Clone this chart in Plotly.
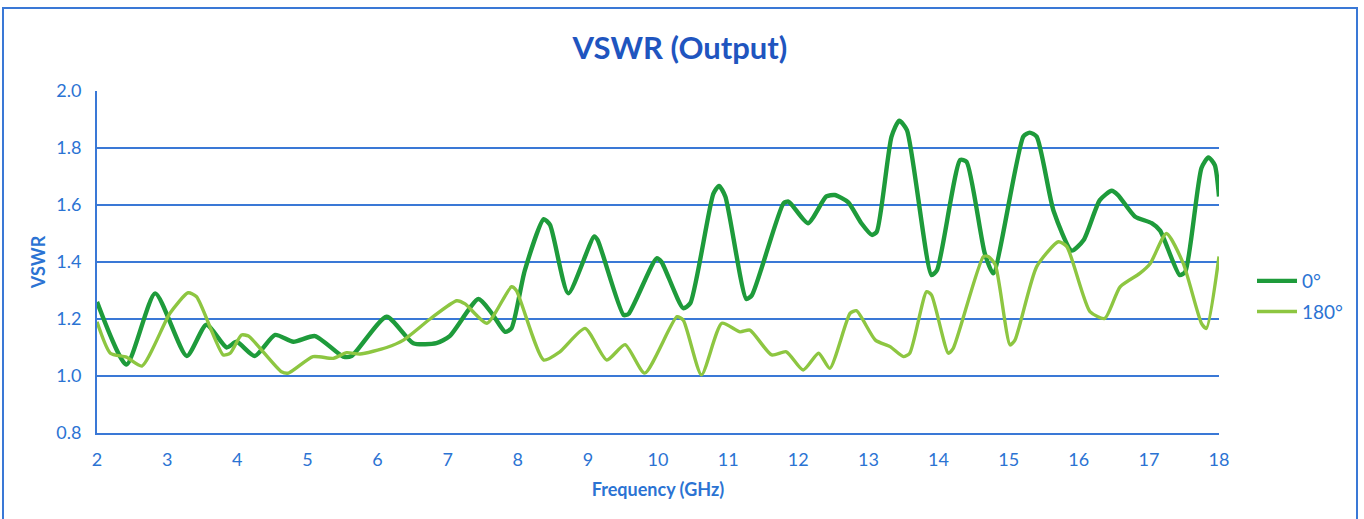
import plotly.graph_objects as go

# ---- data ----
freq_0 = [2.00, 2.42, 2.83, 3.28, 3.56, 3.85, 3.99, 4.25, 4.54, 4.80, 5.11, 5.51, 5.63,
          6.13, 6.51, 6.84, 7.03, 7.44, 7.63, 7.82, 7.91, 8.10, 8.37, 8.46, 8.72, 9.09,
          9.14, 9.51, 9.58, 9.98, 10.05, 10.36, 10.46, 10.79, 10.87, 10.96, 11.26, 11.34,
          11.79, 11.86, 11.93, 12.14, 12.40, 12.52, 12.71, 12.90, 13.05, 13.12, 13.33,
          13.44, 13.55, 13.90, 13.98, 14.31, 14.40, 14.66, 14.78, 15.21, 15.30, 15.40,
          15.64, 15.90, 16.07, 16.30, 16.47, 16.56, 16.80, 17.04, 17.16, 17.44, 17.52,
          17.75, 17.85, 17.94, 18.00]
vswr_0 = [1.26, 1.04, 1.29, 1.07, 1.18, 1.10, 1.12, 1.07, 1.144, 1.12, 1.14, 1.068, 1.07,
          1.208, 1.115, 1.115, 1.14, 1.27, 1.22, 1.155, 1.167, 1.37, 1.55, 1.53, 1.29, 1.49,
          1.477, 1.214, 1.218, 1.413, 1.40, 1.238, 1.255, 1.64, 1.667, 1.63, 1.27, 1.284,
          1.606, 1.612, 1.594, 1.536, 1.63, 1.635, 1.61, 1.536, 1.495, 1.506, 1.84,
          1.896, 1.863, 1.354, 1.372, 1.758, 1.752, 1.43, 1.36, 1.84, 1.854, 1.84,
          1.58, 1.44, 1.477, 1.617, 1.65, 1.635, 1.56, 1.536, 1.51, 1.354, 1.366,
          1.73, 1.767, 1.74, 1.63]

freq_180 = [2.00, 2.19, 2.42, 2.64, 3.04, 3.30, 3.42, 3.80, 3.90, 4.06, 4.16, 4.63, 4.73,
            5.08, 5.37, 5.56, 5.75, 6.13, 6.37, 6.75, 7.13, 7.25, 7.56, 7.91, 7.98, 8.37,
            8.60, 8.96, 9.27, 9.53, 9.81, 10.27, 10.36, 10.62, 10.91, 11.17, 11.31, 11.62,
            11.83, 12.07, 12.29, 12.45, 12.74, 12.83, 13.10, 13.31, 13.50, 13.59, 13.83,
            13.90, 14.14, 14.21, 14.64, 14.71, 14.81, 15.02, 15.09, 15.40, 15.71, 15.83,
            16.16, 16.37, 16.59, 16.87, 17.02, 17.25, 17.49, 17.75, 17.82, 18.00]
vswr_180 = [1.19, 1.08, 1.066, 1.035, 1.22, 1.292, 1.278, 1.074, 1.08, 1.144, 1.14, 1.015, 1.01,
            1.068, 1.062, 1.082, 1.077, 1.10, 1.126, 1.20, 1.264, 1.253, 1.185, 1.313, 1.30, 1.056,
            1.085, 1.167, 1.056, 1.11, 1.01, 1.208, 1.196, 1.004, 1.185, 1.155, 1.161, 1.074,
            1.085, 1.021, 1.08, 1.027, 1.22, 1.229, 1.126, 1.103, 1.068, 1.08, 1.296,
            1.284, 1.08, 1.097, 1.419, 1.419, 1.39, 1.109, 1.126, 1.384, 1.471, 1.454,
            1.226, 1.202, 1.313, 1.36, 1.395, 1.50, 1.395, 1.185, 1.167, 1.419]

x_ticks = [2, 3, 4, 5, 6, 7, 8, 9, 10, 11, 12, 13, 14, 15, 16, 17, 18]
y_ticks = [0.8, 1.0, 1.2, 1.4, 1.6, 1.8, 2.0]
y_tick_labels = ["0.8", "1.0", "1.2", "1.4", "1.6", "1.8", "2.0"]

# ---- styles ----
BLUE = "#2B73D3"
GRID = "#3A78D6"
TITLE_BLUE = "#1F55BF"
DARK_GREEN = "#1E9B3B"
LIGHT_GREEN = "#8DC641"
FONT = "Lato, 'Open Sans', Arial, sans-serif"

fig = go.Figure()
fig.add_trace(go.Scatter(x=freq_0, y=vswr_0, mode="lines", name="0°",
                         line=dict(color=DARK_GREEN, width=4.4, shape="spline", smoothing=0.6),
                         legendgroup="a"))
fig.add_trace(go.Scatter(x=freq_180, y=vswr_180, mode="lines", name="180°",
                         line=dict(color=LIGHT_GREEN, width=3.4, shape="spline", smoothing=0.6),
                         legendgroup="b"))

L, R, T, B = 97, 145, 91, 86
W, H = 1364, 519
pw, ph = W - L - R, H - T - B

def px_x(px):
    return (px - L) / pw

def px_y(py):
    return (H - B - py) / ph

fig.update_layout(
    width=W, height=H,
    margin=dict(l=L, r=R, t=T, b=B),
    paper_bgcolor="white", plot_bgcolor="white",
    font=dict(family=FONT, color=BLUE),
    title=dict(text="<b>VSWR (Output)</b>", x=680 / W, xref="container", xanchor="center",
               y=1 - 48 / H, yref="container", yanchor="middle",
               font=dict(size=31, color=TITLE_BLUE, family=FONT)),
    showlegend=True,
    legend=dict(x=px_x(1252), y=px_y(262), xanchor="left", yanchor="top",
                font=dict(size=19, color=BLUE, family=FONT),
                tracegroupgap=3, itemwidth=40, bgcolor="rgba(0,0,0,0)"),
    xaxis=dict(range=[2, 18], tickvals=x_ticks, ticktext=[str(t) for t in x_ticks],
               showgrid=False, zeroline=False, showline=True, linecolor=GRID, linewidth=1.5,
               ticks="", ticklabelstandoff=10,
               tickfont=dict(size=18, color=BLUE, family=FONT),
               title=dict(text="<b>Frequency (GHz)</b>", standoff=14,
                          font=dict(size=18, color=BLUE, family=FONT))),
    yaxis=dict(range=[0.8, 2.0], tickvals=y_ticks, ticktext=y_tick_labels,
               showgrid=True, gridcolor=GRID, gridwidth=1.5, zeroline=False,
               showline=True, linecolor=GRID, linewidth=2, ticks="",
               ticklabelstandoff=10,
               tickfont=dict(size=18, color=BLUE, family=FONT),
               title=dict(text="<b>VSWR</b>", standoff=6,
                          font=dict(size=18, color=BLUE, family=FONT))),
    shapes=[dict(type="rect", xref="paper", yref="paper",
                 x0=px_x(3), x1=px_x(1357), y0=px_y(530), y1=px_y(8),
                 line=dict(color=GRID, width=2), fillcolor="rgba(0,0,0,0)", layer="below")],
)

fig.write_html("out.html", config={"displayModeBar": False},
               post_script="document.body.style.margin='0';document.body.style.overflow='hidden';")
